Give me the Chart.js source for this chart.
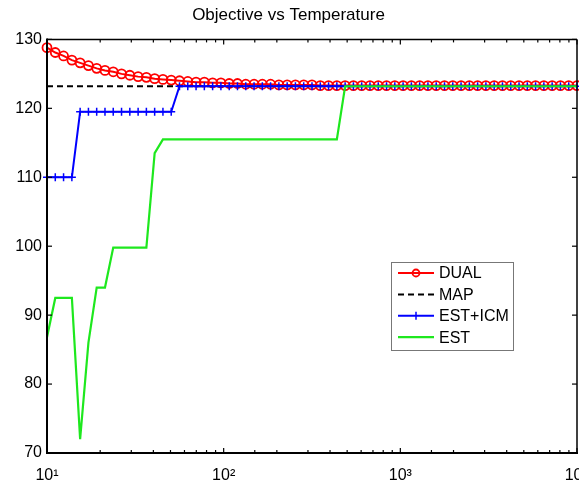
<!DOCTYPE html>
<html>
<head>
<meta charset="utf-8">
<script src="https://cdn.jsdelivr.net/npm/chart.js@4.4.1/dist/chart.umd.min.js"></script>
<style>
  body { margin: 0; background: #fff; }
  #wrap { width: 579px; height: 484px; }
</style>
</head>
<body>
<div id="wrap"><canvas id="objChart"></canvas></div>
<script>
// temperature schedule (log spaced, 10 .. 1e4)
const temperatures = [
  10, 11.14, 12.41, 13.83, 15.40, 17.16, 19.11, 21.29, 23.71, 26.42,
  29.43, 32.79, 36.52, 40.68, 45.32, 50.48, 56.23, 62.64, 69.78, 77.74,
  86.60, 96.47, 107.5, 119.7, 133.4, 148.6, 165.5, 184.3, 205.4, 228.8,
  254.8, 283.9, 316.2, 352.3, 392.4, 437.2, 487.0, 542.5, 604.3, 673.2,
  749.9, 835.4, 930.6, 1036.6, 1154.8, 1286.4, 1433.0, 1596.3, 1778.3, 1981.0,
  2206.7, 2458.3, 2738.4, 3050.5, 3398.2, 3785.5, 4217.0, 4697.6, 5233.0, 5829.4,
  6493.8, 7233.8, 8058.2, 8976.6, 10000
];

const dualObjective = [
  128.8, 128.1, 127.6, 127.0, 126.6, 126.2, 125.8, 125.5, 125.3, 125.0,
  124.8, 124.6, 124.5, 124.3, 124.2, 124.1, 124.0, 123.9, 123.8, 123.8,
  123.7, 123.7, 123.6, 123.6, 123.5, 123.5, 123.5, 123.5, 123.4, 123.4,
  123.4, 123.4, 123.4, 123.3, 123.3, 123.3, 123.3, 123.3, 123.3, 123.3,
  123.3, 123.3, 123.3, 123.3, 123.3, 123.3, 123.3, 123.3, 123.3, 123.3,
  123.3, 123.3, 123.3, 123.3, 123.3, 123.3, 123.3, 123.3, 123.3, 123.3,
  123.3, 123.3, 123.3, 123.3, 123.3
];

const mapObjective = 123.2;

const estIcmObjective = [
  110.0, 110.0, 110.0, 110.0, 119.5, 119.5, 119.5, 119.5, 119.5, 119.5,
  119.5, 119.5, 119.5, 119.5, 119.5, 119.5, 123.2, 123.2, 123.2, 123.2,
  123.2, 123.2, 123.2, 123.2, 123.2, 123.2, 123.2, 123.2, 123.2, 123.2,
  123.2, 123.2, 123.2, 123.2, 123.2, 123.2, 123.2, 123.2, 123.2, 123.2,
  123.2, 123.2, 123.2, 123.2, 123.2, 123.2, 123.2, 123.2, 123.2, 123.2,
  123.2, 123.2, 123.2, 123.2, 123.2, 123.2, 123.2, 123.2, 123.2, 123.2,
  123.2, 123.2, 123.2, 123.2, 123.2
];

const estObjective = [
  86.8, 92.5, 92.5, 92.5, 72.0, 86.0, 94.0, 94.0, 99.8, 99.8,
  99.8, 99.8, 99.8, 113.5, 115.5, 115.5, 115.5, 115.5, 115.5, 115.5,
  115.5, 115.5, 115.5, 115.5, 115.5, 115.5, 115.5, 115.5, 115.5, 115.5,
  115.5, 115.5, 115.5, 115.5, 115.5, 115.5, 123.2, 123.2, 123.2, 123.2,
  123.2, 123.2, 123.2, 123.2, 123.2, 123.2, 123.2, 123.2, 123.2, 123.2,
  123.2, 123.2, 123.2, 123.2, 123.2, 123.2, 123.2, 123.2, 123.2, 123.2,
  123.2, 123.2, 123.2, 123.2, 123.2
];

const yTicks = [70, 80, 90, 100, 110, 120, 130];
const xTickValues = [10, 100, 1000, 10000];
const xTickLabels = ['10¹', '10²', '10³', '10⁴'];
const seriesNames = ['DUAL', 'MAP', 'EST+ICM', 'EST'];

const FONT = '"Liberation Sans", Arial, Helvetica, sans-serif';

function toPoints(values) {
  return temperatures.map((t, i) => ({ x: t, y: values[i] }));
}

function decadeIndex(v) {
  return xTickValues.findIndex(d => Math.abs(v - d) / d < 1e-6);
}

// box around the axes with inward tick marks
const axesBox = {
  id: 'axesBox',
  afterDatasetsDraw(chart) {
    const { ctx, chartArea: a, scales: { x, y } } = chart;
    const seg = (x1, y1, x2, y2) => { ctx.beginPath(); ctx.moveTo(x1, y1); ctx.lineTo(x2, y2); ctx.stroke(); };
    ctx.save();
    ctx.strokeStyle = '#000';
    ctx.lineWidth = 1.2;
    yTicks.forEach(v => {
      const py = y.getPixelForValue(v);
      seg(a.left, py, a.left + 5, py);
      seg(a.right, py, a.right - 5, py);
    });
    x.ticks.forEach(t => {
      const px = x.getPixelForValue(t.value);
      const len = decadeIndex(t.value) >= 0 ? 5 : 3;
      seg(px, a.bottom, px, a.bottom - len);
      seg(px, a.top, px, a.top + len);
    });
    ctx.lineWidth = 1.5;
    seg(a.left, a.top, a.right, a.top);
    seg(a.right, a.top, a.right, a.bottom);
    ctx.lineWidth = 2;
    seg(a.left, a.top - 1, a.left, a.bottom + 1);
    seg(a.left - 1, a.bottom, a.right + 1, a.bottom);
    ctx.restore();
  }
};

// legend box in the lower right of the plot
const boxLegend = {
  id: 'boxLegend',
  afterDraw(chart) {
    const { ctx } = chart;
    const bx = 391, by = 262, bw = 122, bh = 88;
    ctx.save();
    ctx.fillStyle = '#fff';
    ctx.fillRect(bx, by, bw, bh);
    ctx.strokeStyle = '#777';
    ctx.lineWidth = 1;
    ctx.strokeRect(bx + 0.5, by + 0.5, bw, bh);
    ctx.font = '16px ' + FONT;
    ctx.textBaseline = 'middle';
    chart.data.datasets.forEach((ds, i) => {
      const ry = by + 11 + i * 21.4;
      const x1 = bx + 7, x2 = bx + 43, xm = (x1 + x2) / 2;
      ctx.strokeStyle = ds.borderColor;
      ctx.lineWidth = ds.borderWidth;
      ctx.setLineDash(ds.borderDash || []);
      ctx.beginPath(); ctx.moveTo(x1, ry); ctx.lineTo(x2, ry); ctx.stroke();
      ctx.setLineDash([]);
      if (ds.pointRadius > 0) {
        ctx.lineWidth = ds.pointBorderWidth;
        if (ds.pointStyle === 'circle') {
          ctx.beginPath(); ctx.arc(xm, ry, 3.5, 0, Math.PI * 2); ctx.stroke();
        } else {
          ctx.beginPath();
          ctx.moveTo(xm, ry - 4); ctx.lineTo(xm, ry + 4);
          ctx.stroke();
        }
      }
      ctx.fillStyle = '#000';
      ctx.fillText(seriesNames[i], bx + 48, ry + 1);
    });
    ctx.restore();
  }
};

new Chart(document.getElementById('objChart'), {
  type: 'line',
  data: {
    datasets: [
      {
        label: seriesNames[0],
        data: toPoints(dualObjective),
        borderColor: '#ff0000',
        borderWidth: 2,
        pointStyle: 'circle',
        pointRadius: 4.5,
        pointBorderWidth: 1.8,
        pointBorderColor: '#ff0000',
        pointBackgroundColor: 'rgba(0,0,0,0)',
        clip: false,
        order: 3
      },
      {
        label: seriesNames[1],
        data: [{ x: 10, y: mapObjective }, { x: 10000, y: mapObjective }],
        borderColor: '#000000',
        borderWidth: 2,
        borderDash: [6, 4],
        pointRadius: 0,
        order: 2
      },
      {
        label: seriesNames[2],
        data: toPoints(estIcmObjective),
        borderColor: '#0000ff',
        borderWidth: 2,
        pointStyle: 'cross',
        pointRadius: 4,
        pointBorderWidth: 1.5,
        pointBorderColor: '#0000ff',
        clip: false,
        order: 1
      },
      {
        label: seriesNames[3],
        data: toPoints(estObjective),
        borderColor: '#1ee81e',
        borderWidth: 2.2,
        pointRadius: 0,
        order: 0
      }
    ]
  },
  options: {
    responsive: true,
    maintainAspectRatio: false,
    animation: false,
    layout: { autoPadding: false, padding: { left: 0, right: 2, top: 0, bottom: 0 } },
    plugins: {
      legend: { display: false },
      tooltip: { enabled: false },
      title: {
        display: true,
        text: 'Objective vs Temperature',
        color: '#000',
        font: { family: FONT, size: 17, weight: 'normal' },
        padding: { top: 5, bottom: 14 }
      }
    },
    scales: {
      x: {
        type: 'logarithmic',
        min: 10,
        max: 10000,
        grid: { display: false, drawTicks: false },
        border: { display: false },
        ticks: {
          autoSkip: false,
          maxRotation: 0,
          padding: 13,
          color: '#000',
          font: { family: FONT, size: 16 },
          callback: v => {
            const k = decadeIndex(v);
            return k >= 0 ? xTickLabels[k] : '';
          }
        },
        afterFit: s => { s.height = 31; s.paddingLeft = 0; s.paddingRight = 0; }
      },
      y: {
        min: 70,
        max: 130,
        grid: { display: false, drawTicks: false },
        border: { display: false },
        ticks: {
          stepSize: 10,
          padding: 5,
          color: '#000',
          font: { family: FONT, size: 16 }
        },
        afterFit: s => { s.width = 47; s.paddingTop = 0; s.paddingBottom = 0; }
      }
    }
  },
  plugins: [axesBox, boxLegend]
});
</script>
</body>
</html>
